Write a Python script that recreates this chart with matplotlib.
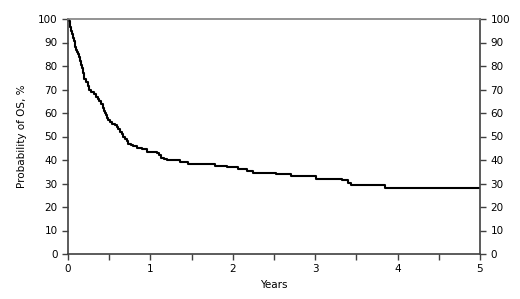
import matplotlib
matplotlib.use("Agg")
import matplotlib.pyplot as plt
from matplotlib.ticker import MultipleLocator

# Kaplan-Meier curve (years, % surviving)
years = [0, 0.01, 0.02, 0.03, 0.04, 0.05, 0.06, 0.07, 0.08, 0.09, 0.10, 0.11,
         0.12, 0.13, 0.14, 0.15, 0.16, 0.17, 0.18, 0.19, 0.20, 0.22,
         0.24, 0.26, 0.28, 0.31, 0.34, 0.36, 0.38, 0.40, 0.42, 0.43, 0.44,
         0.45, 0.46, 0.47, 0.49, 0.51, 0.54, 0.57, 0.59, 0.61, 0.63, 0.65,
         0.67, 0.69, 0.71, 0.73, 0.76, 0.79, 0.84, 0.90, 0.96, 1.08,
         1.11, 1.13, 1.16, 1.20, 1.36, 1.46, 1.78, 1.93, 2.06, 2.17, 2.25, 2.52,
         2.71, 3.01, 3.32, 3.40, 3.44, 3.85, 5.0]
surv = [100, 99, 98, 96.5, 95, 93.5, 92, 90.5, 89, 88, 87, 86,
        85, 84, 83, 82, 80.5, 79, 77, 75.5, 74.5, 73,
        71.5, 70, 69, 68, 67, 66, 65, 64, 63, 62, 61,
        60, 59, 58, 57, 56.3, 55.5, 54.8, 54, 53, 52, 51,
        50, 49, 48, 47, 46.5, 46, 45.3, 44.5, 43.6, 43.0,
        42.0, 41.0, 40.3, 40.0, 39.3, 38.3, 37.6, 36.9, 36.2, 35.5, 34.6, 33.9,
        33.3, 32.0, 31.4, 30.4, 29.5, 28.2, 28.2]

xticks = [0, 1, 2, 3, 4, 5]
yticks = list(range(0, 101, 10))

fig = plt.figure(figsize=(5.2, 2.99), dpi=100)
ax = fig.add_axes([68/520, 45/299, 412/520, 235/299])

ax.plot(years, surv, drawstyle='steps-post', color='black', lw=1.5)

ax.set_xlim(0, 5)
ax.set_ylim(0, 100)
ax.set_xticks(xticks)
ax.xaxis.set_minor_locator(MultipleLocator(0.5))
ax.set_yticks(yticks)

fs = 7.5
ax.tick_params(axis='both', labelsize=fs, colors='#404040', labelcolor='black',
               length=4, width=1, direction='out')
ax.tick_params(axis='x', which='minor', length=4, width=1, color='#404040')
ax.tick_params(axis='y', right=True, labelright=True)

for side in ['left', 'bottom', 'right']:
    ax.spines[side].set_color('#404040')
    ax.spines[side].set_linewidth(1.2)
ax.spines['top'].set_color('#808080')
ax.spines['top'].set_linewidth(1.2)

ax.set_xlabel('Years', fontsize=fs, labelpad=4)
ax.set_ylabel('Probability of OS, %', fontsize=fs, labelpad=8)

fig.savefig('out.png', dpi=100)
